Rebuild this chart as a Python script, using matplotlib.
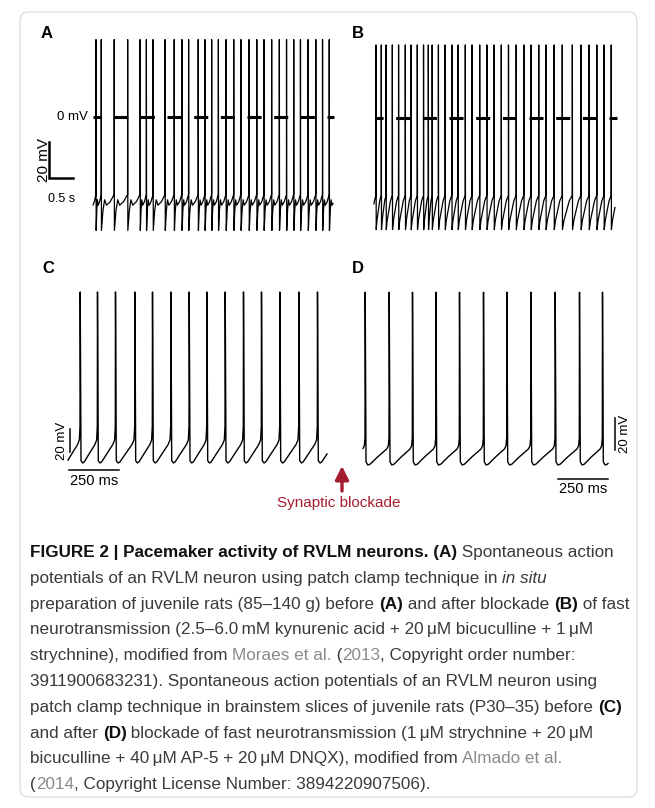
import numpy as np
import matplotlib
matplotlib.use('Agg')
import matplotlib.pyplot as plt
from matplotlib.patches import FancyBboxPatch

W, H = 655, 808
plt.rcParams['lines.scale_dashes'] = False

# ---- traces ----
# A: in situ, before blockade (time in s, voltage in mV)
a_spikes = [0.06, 0.17, 0.44, 0.72, 0.98, 1.11, 1.25, 1.50, 1.69, 1.85, 1.99, 2.19,
            2.33, 2.47, 2.61, 2.77, 2.93, 3.08, 3.25, 3.41, 3.56, 3.72, 3.88, 4.03,
            4.18, 4.32, 4.48, 4.64, 4.78, 4.92]
a_peak = 43
a_shape = [(0.0, -63), (0.12, -52), (0.25, -46), (0.4, -49), (0.7, -47), (1.0, -43)]
a_end = 5.0

# B: in situ, after blockade
b_spikes = [0.04, 0.15, 0.25, 0.38, 0.51, 0.65, 0.77, 0.90, 1.03, 1.13, 1.21, 1.34,
            1.48, 1.62, 1.75, 1.90, 2.04, 2.20, 2.35, 2.50, 2.65, 2.80, 2.96, 3.12,
            3.27, 3.43, 3.58, 3.75, 3.92, 4.13, 4.31, 4.48, 4.64, 4.79, 4.94]
b_peak = 40.6
b_shape = [(0.0, -62), (0.15, -57), (0.7, -46), (1.0, -43)]
b_end = 5.02

# C: slice, before blockade (time in ms)
c_spikes = [60, 146.5, 236.5, 333.5, 421.5, 513.5, 605, 693.5, 785, 876.5, 966.5,
            1058.5, 1153.5, 1246.5]
c_peak = 88.7
c_shape = [(0.0, -58), (0.1, -60), (0.2, -59), (0.5, -52), (0.85, -44), (0.96, -40), (1.0, -28)]
c_end = 1295

# D: slice, after blockade
d_spikes = [10, 130, 246.5, 363.5, 481.5, 601.5, 718.5, 838.5, 960, 1081.5, 1196.5]
d_peak = 48
d_shape = [(0.0, -58), (0.08, -60), (0.18, -59.5), (0.5, -55), (0.9, -50), (0.97, -48), (1.0, -43)]
d_end = 1225

# scale bars
ab_bar_mv, ab_bar_s = 20, 0.5
cd_bar_mv, cd_bar_ms = 20, 250

red = '#a31d2e'
sans = ['Liberation Sans', 'DejaVu Sans']
cap_size = 12.3


def build_trace(spikes, t_end, peak, shape, up, down):
    # piecewise trace: spike up, fall to the trough, then the recovery shape until the next spike
    spikes = list(spikes)
    isi = np.diff(spikes)
    sp = [spikes[0] - isi[0]] + spikes + [spikes[-1] + isi[-1]]
    ts, vs = [], []
    for s0, s1 in zip(sp[:-1], sp[1:]):
        ts += [s0, s0 + up]
        vs += [shape[-1][1], peak]
        for f, v in shape[:-1]:
            ts.append(s0 + down + f * (s1 - s0 - down))
            vs.append(v)
    ts.append(sp[-1])
    vs.append(shape[-1][1])
    ts, vs = np.array(ts), np.array(vs)
    keep = (ts > 0) & (ts < t_end)
    t = np.concatenate([[0], ts[keep], [t_end]])
    v = np.concatenate([[np.interp(0, ts, vs)], vs[keep], [np.interp(t_end, ts, vs)]])
    return t, v


def px_axes(fig, box, x0, y0, sx, sy):
    # axes over a pixel box; x0/y0 is where t=0 / v=0 sit, sx/sy are pixels per unit
    l, t, r, b = box
    ax = fig.add_axes([l / W, 1 - b / H, (r - l) / W, (b - t) / H])
    ax.set_xlim((l - x0) / sx, (r - x0) / sx)
    ax.set_ylim((y0 - b) / sy, (y0 - t) / sy)
    ax.axis('off')
    return ax


fig = plt.figure(figsize=(W / 100, H / 100), dpi=100)

fig.patches.append(FancyBboxPatch((20 / W, 1 - 797 / H), 617 / W, 785 / H,
                                  boxstyle='round,pad=0,rounding_size=0.012',
                                  transform=fig.transFigure, fc='none', ec='#d9d9d9', lw=0.8))

# ---- A ----
ax = px_axes(fig, (25, 20, 340, 245), 93, 117, 48, 1.8)
t, v = build_trace(a_spikes, a_end, a_peak, a_shape, 0.002, 0.006)
ax.plot(t, v, color='black', lw=0.9)
ax.plot([-0.006, 5.02], [0, 0], color='black', lw=2.2, ls=(4.3, (10.1, 9.1)))
ax.text(-0.1, 0, '0 mV', family=sans, fontsize=9.5, ha='right', va='center', clip_on=False)
tb, vb = -0.92, -34
ax.plot([tb, tb, tb + ab_bar_s], [vb + ab_bar_mv, vb, vb], color='black', lw=1.8,
        solid_joinstyle='miter', clip_on=False)
ax.text(tb - 0.1, vb + ab_bar_mv / 2, f'{ab_bar_mv} mV', family=sans, fontsize=11,
        rotation=90, ha='center', va='center', clip_on=False)
ax.text(tb + ab_bar_s / 2 + 0.02, vb - 11.5, f'{ab_bar_s} s', family=sans, fontsize=9,
        ha='center', va='center', clip_on=False)

# ---- B ----
ax = px_axes(fig, (345, 20, 640, 245), 374, 118, 48, 1.8)
t, v = build_trace(b_spikes, b_end, b_peak, b_shape, 0.002, 0.006)
ax.plot(t, v, color='black', lw=0.9)
ax.plot([0.02, 5.06], [0, 0], color='black', lw=2.2, ls=(4.3, (10.1, 9.1)))

# ---- C ----
ax = px_axes(fig, (25, 280, 340, 500), 68, 394, 0.2, 1.15)
t, v = build_trace(c_spikes, c_end, c_peak, c_shape, 1, 5)
ax.plot(t, v, color='black', lw=1.0)
ax.plot([10, 10], [-50.4, -50.4 + cd_bar_mv], color='black', lw=1.1, clip_on=False)
ax.text(-30, -50.4 + cd_bar_mv / 2, f'{cd_bar_mv} mV', family=sans, fontsize=9.5,
        rotation=90, ha='center', va='center', clip_on=False)
ax.plot([6.5, 6.5 + cd_bar_ms], [-66, -66], color='black', lw=1.1, clip_on=False)
ax.text(6.5 + cd_bar_ms / 2, -75.5, f'{cd_bar_ms} ms', family=sans, fontsize=10.5,
        ha='center', va='center', clip_on=False)

# ---- D ----
ax = px_axes(fig, (345, 280, 640, 500), 363, 369, 0.2, 1.6)
t, v = build_trace(d_spikes, d_end, d_peak, d_shape, 1, 5)
ax.plot(t, v, color='black', lw=1.0)
ax.plot([1260, 1260], [-50.6, -50.6 + cd_bar_mv], color='black', lw=1.1, clip_on=False)
ax.text(1312, -50.6 + cd_bar_mv / 2, f'{cd_bar_mv} mV', family=sans, fontsize=9.5,
        rotation=90, ha='center', va='center', clip_on=False)
ax.plot([975, 975 + cd_bar_ms], [-68.75, -68.75], color='black', lw=1.1, clip_on=False)
ax.text(975 + cd_bar_ms / 2, -75.2, f'{cd_bar_ms} ms', family=sans, fontsize=10.5,
        ha='center', va='center', clip_on=False)

# panel letters
for lab, x, y in [('A', 41, 34), ('B', 352, 34), ('C', 42, 268), ('D', 352, 268)]:
    fig.text(x / W, 1 - y / H, lab, family=sans, fontsize=12, fontweight='bold',
             ha='left', va='center')

# synaptic blockade arrow
fig.add_artist(plt.Annotation('', xy=(342 / W, 1 - 466 / H), xytext=(342 / W, 1 - 491 / H),
                              xycoords='figure fraction',
                              arrowprops=dict(arrowstyle='-|>,head_width=0.4,head_length=0.8',
                                              color=red, lw=2.4, mutation_scale=10,
                                              shrinkA=0, shrinkB=0)))
fig.text(339 / W, 1 - 503 / H, 'Synaptic blockade', family=sans, fontsize=11, color=red,
         ha='center', va='center')

# ---- caption ----
caption = [
    [("FIGURE 2 | Pacemaker activity of RVLM neurons. (A)", 'b'), (" Spontaneous action", 'r')],
    [("potentials of an RVLM neuron using patch clamp technique in ", 'r'), ("in situ", 'i')],
    [("preparation of juvenile rats (85\u2013140 g) before ", 'r'), ("(A)", 'b'),
     (" and after blockade ", 'r'), ("(B)", 'b'), (" of fast", 'r')],
    [("neurotransmission (2.5\u20136.0\u2009mM kynurenic acid + 20\u2009\u03bcM bicuculline + 1\u2009\u03bcM", 'r')],
    [("strychnine), modified from ", 'r'), ("Moraes et al.", 'g'), (" (", 'r'), ("2013", 'g'),
     (", Copyright order number:", 'r')],
    [("3911900683231). Spontaneous action potentials of an RVLM neuron using", 'r')],
    [("patch clamp technique in brainstem slices of juvenile rats (P30\u201335) before ", 'r'), ("(C)", 'b')],
    [("and after ", 'r'), ("(D)", 'b'),
     (" blockade of fast neurotransmission (1\u2009\u03bcM strychnine + 20\u2009\u03bcM", 'r')],
    [("bicuculline + 40\u2009\u03bcM AP-5 + 20\u2009\u03bcM DNQX), modified from ", 'r'), ("Almado et al.", 'g')],
    [("(", 'r'), ("2014", 'g'), (", Copyright License Number: 3894220907506).", 'r')],
]
styles = {'r': dict(color='#3a3a3a'), 'b': dict(color='#111111', fontweight='bold'),
          'i': dict(color='#3a3a3a', fontstyle='italic'), 'g': dict(color='#8a8a8a')}

renderer = fig.canvas.get_renderer()


def text_width(s, kw):
    # width including trailing spaces: measure with a trailing marker and take it off
    a = fig.text(0, 0, s + 'x', family=sans, fontsize=cap_size, **kw)
    b = fig.text(0, 0, 'x', family=sans, fontsize=cap_size, **kw)
    w = a.get_window_extent(renderer).width - b.get_window_extent(renderer).width
    a.remove()
    b.remove()
    return w


for i, line in enumerate(caption):
    x = 30
    y = 557 + i * 25.8
    for s, st in line:
        fig.text(x / W, 1 - y / H, s, family=sans, fontsize=cap_size, ha='left', va='baseline',
                 **styles[st])
        x += text_width(s, styles[st])

fig.savefig('out.png', dpi=100)
